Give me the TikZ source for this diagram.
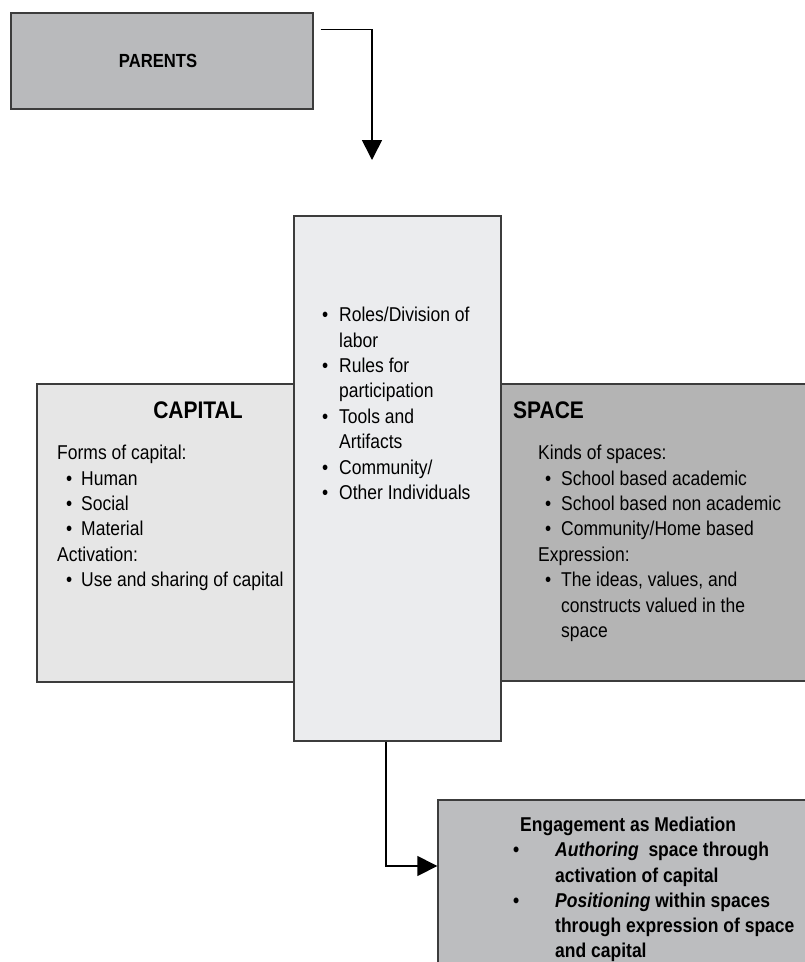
\documentclass[tikz,border=0pt]{standalone}
\usepackage{fontspec}
\setmainfont[FakeStretch=0.875]{Liberation Sans}
\usetikzlibrary{arrows.meta,positioning}

\definecolor{parentgray}{HTML}{B9BABC}
\definecolor{capitalgray}{HTML}{E6E6E6}
\definecolor{middlegray}{HTML}{EBECEE}
\definecolor{spacegray}{HTML}{B4B4B4}
\definecolor{engagegray}{HTML}{BCBDBF}
\definecolor{edgegray}{HTML}{3C3C3C}

\newcommand{\bul}[2]{\hspace*{#1}\makebox[#2][l]{\textbullet}}

\begin{document}
\begin{tikzpicture}[x=1pt,y=-1pt,
    box/.style={rectangle,draw=edgegray,line width=1.4pt,inner sep=0pt},
    txt/.style={inner sep=0pt,align=left,anchor=north west,font=\fontsize{20}{25.4}\selectfont},
    title/.style={inner sep=0pt,font=\fontsize{24}{28}\selectfont\bfseries},
    link/.style={line width=1.6pt,-{Triangle[width=20pt,length=20pt]}}]
\useasboundingbox (0,0) rectangle (805,962);
\clip (0,0) rectangle (805,962);

% boxes
\node [box,fill=parentgray,minimum width=302,minimum height=96,
       font=\fontsize{19}{22}\selectfont\bfseries] (parents) at (162,61) {\hspace*{-8pt}PARENTS};
\node [box,fill=capitalgray,minimum width=263,minimum height=298] (capital) at (168.5,533) {};
\node [box,fill=spacegray,minimum width=335,minimum height=297] (space) at (662.5,532.5) {};
\node [box,fill=middlegray,minimum width=207,minimum height=525] (middle) at (397.5,478.5) {};
\node [box,fill=engagegray,minimum width=392,minimum height=190] (engage) at (634,895) {};
\coordinate (drop) at (372,160);

% texts
\node [title,anchor=north] (captitle) at (198,402) {CAPITAL};
\node [txt] (capbody) at (57,445) {Forms of capital:\\
    \bul{9pt}{15pt}Human\\
    \bul{9pt}{15pt}Social\\
    \bul{9pt}{15pt}Material\\
    Activation:\\
    \bul{9pt}{15pt}Use and sharing of capital};

\node [txt] (midbody) at (322,307) {\bul{0pt}{17pt}Roles/Division of\\
    \hspace*{17pt}labor\\
    \bul{0pt}{17pt}Rules for\\
    \hspace*{17pt}participation\\
    \bul{0pt}{17pt}Tools and\\
    \hspace*{17pt}Artifacts\\
    \bul{0pt}{17pt}Community/\\
    \bul{0pt}{17pt}Other Individuals};

\node [title,anchor=north west] (spacetitle) at (513,402) {SPACE};
\node [txt] (spacebody) at (538,445) {Kinds of spaces:\\
    \bul{7pt}{16pt}School based academic\\
    \bul{7pt}{16pt}School based non academic\\
    \bul{7pt}{16pt}Community/Home based\\
    Expression:\\
    \bul{7pt}{16pt}The ideas, values, and\\
    \hspace*{23pt}constructs valued in the\\
    \hspace*{23pt}space};

\node [txt,font=\fontsize{20}{25.2}\selectfont\bfseries] (engbody) at (513,817) {\hspace*{7pt}Engagement as Mediation\\
    \bul{0pt}{42pt}\textit{Authoring}\ \ space through\\
    \hspace*{42pt}activation of capital\\
    \bul{0pt}{42pt}\textit{Positioning} within spaces\\
    \hspace*{42pt}through expression of space\\
    \hspace*{42pt}and capital};

% connectors
\draw [link] ([xshift=7pt,yshift=-17pt]parents.north east) -| (drop);
\draw [link] ([xshift=-11.5pt]middle.south) |- ([yshift=29pt]engage.west);
\end{tikzpicture}
\end{document}
